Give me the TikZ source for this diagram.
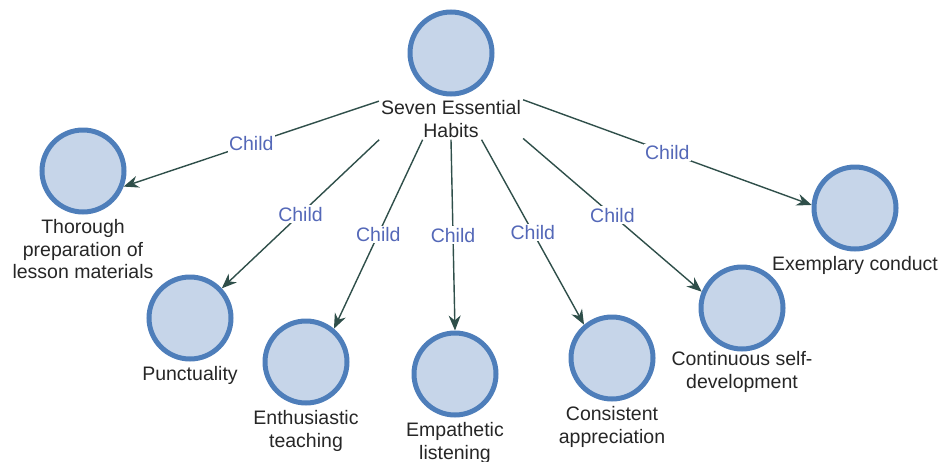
\documentclass[tikz,border=0pt]{standalone}
\usepackage{fontspec}
\setmainfont{Liberation Sans}
\usetikzlibrary{positioning,arrows.meta}
\definecolor{habitfill}{HTML}{C6D5E9}
\definecolor{habitline}{HTML}{4E7EBA}
\definecolor{linkcol}{HTML}{2F4F4A}
\definecolor{childcol}{HTML}{5468B8}
\begin{document}
\begin{tikzpicture}[x=1pt,y=-1pt,
        habit/.style={circle,draw=habitline,fill=habitfill,line width=5pt,minimum size=82pt,inner sep=0pt},
        caption/.style={align=center,text=black!85,inner sep=0pt,font=\fontsize{19.5}{22.5}\selectfont},
        link/.style={draw=linkcol,line width=1.4pt,-{Stealth[length=15pt,width=12pt]}},
        childlbl/.style={text=childcol,fill=white,inner sep=1.5pt,font=\fontsize{19.5}{22.5}\selectfont}]
            \useasboundingbox (0,0) rectangle (944,461);

            % habits
            \node [habit] (root) at (451,53) {};
            \node [habit] (prep) at (83,171) {};
            \node [habit] (punct) at (190,318) {};
            \node [habit] (enth) at (306,362) {};
            \node [habit] (empa) at (455,374) {};
            \node [habit] (cons) at (612,358) {};
            \node [habit] (cont) at (742,308) {};
            \node [habit] (exem) at (855,208) {};

            % captions
            \node [caption,inner sep=2pt,below=2pt of root] (rootcap) {Seven Essential\\Habits};
            \node [caption,below=5pt of prep] (prepcap) {Thorough\\preparation of\\lesson materials};
            \node [caption,below=5pt of punct] (punctcap) {Punctuality};
            \node [caption,below=5pt of enth] (enthcap) {Enthusiastic\\teaching};
            \node [caption,below=5pt of empa] (empacap) {Empathetic\\listening};
            \node [caption,below=5pt of cons] (conscap) {Consistent\\appreciation};
            \node [caption,below=0pt of cont] (contcap) {Continuous self-\\development};
            \node [caption,below=5pt of exem] (exemcap) {Exemplary conduct};

            % links
            \draw [link] (rootcap.166) -- node [childlbl] {Child} (prep.-21);
            \draw [link] (rootcap.196) -- node [childlbl] {Child} (punct.43);
            \draw [link] (rootcap.216) -- node [childlbl] {Child} (enth.50);
            \draw [link] (rootcap.270) -- node [childlbl] {Child} (empa.90);
            \draw [link] (rootcap.326) -- node [childlbl] {Child} (cons.130);
            \draw [link] (rootcap.345) -- node [childlbl] {Child} (cont.158);
            \draw [link] (rootcap.15) -- node [childlbl] {Child} (exem.176);
\end{tikzpicture}
\end{document}
